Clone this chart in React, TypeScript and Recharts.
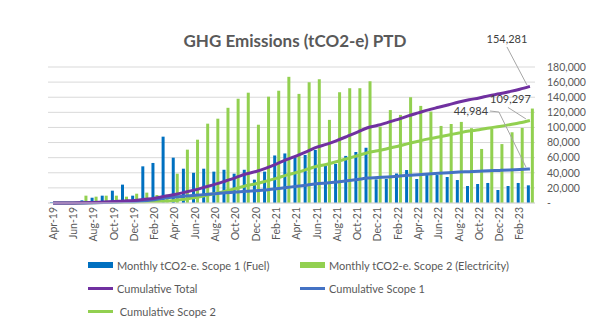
import React from "react";
import { ComposedChart, Bar, Line, XAxis, YAxis, CartesianGrid } from "recharts";

const FONT = "Lato, 'Open Sans', sans-serif";
const TXT = "#595959";

// categorias mensais (Apr-19 .. Mar-23)
const MONTHS = [
  "Apr-19", "May-19", "Jun-19", "Jul-19", "Aug-19", "Sep-19", "Oct-19", "Nov-19", "Dec-19", "Jan-20", "Feb-20", "Mar-20",
  "Apr-20", "May-20", "Jun-20", "Jul-20", "Aug-20", "Sep-20", "Oct-20", "Nov-20", "Dec-20", "Jan-21", "Feb-21", "Mar-21",
  "Apr-21", "May-21", "Jun-21", "Jul-21", "Aug-21", "Sep-21", "Oct-21", "Nov-21", "Dec-21", "Jan-22", "Feb-22", "Mar-22",
  "Apr-22", "May-22", "Jun-22", "Jul-22", "Aug-22", "Sep-22", "Oct-22", "Nov-22", "Dec-22", "Jan-23", "Feb-23", "Mar-23",
];

// monthly tCO2-e
const SCOPE1_MONTHLY = [
  25, 0, 0, 88, 175, 243, 408, 608, 243, 1213, 1325, 2195,
  1500, 1135, 1000, 1135, 1038, 1100, 970, 1100, 773, 1038, 1573, 1640,
  1513, 1590, 1755, 1225, 1293, 1558, 1688, 1828, 783, 800, 975, 1091,
  795, 925, 925, 860, 760, 563, 628, 663, 430, 563, 663, 585,
];
const SCOPE2_MONTHLY = [
  13, 0, 0, 243, 210, 243, 243, 210, 308, 343, 265, 275,
  970, 1765, 2095, 2625, 2790, 3150, 3450, 3650, 2590, 3518, 3715, 4175,
  3610, 3995, 4095, 2750, 3665, 3798, 3798, 4028, 2525, 3075, 2915, 3500,
  3213, 3025, 2550, 2615, 2683, 2475, 1788, 2450, 1950, 2340, 2483, 3125,
];

// cumulative tCO2-e
const CUM_TOTAL = [
  38, 38, 38, 369, 754, 1240, 1891, 2709, 3260, 4816, 6406, 8876,
  11346, 14246, 17341, 21101, 24929, 29179, 33599, 38349, 41712, 46268, 51556, 57371,
  62494, 68079, 73929, 77904, 82862, 88218, 93704, 99560, 102868, 106743, 110633, 115224,
  119232, 123182, 126657, 130132, 133575, 136613, 139029, 142142, 144522, 147425, 150571, 154281,
];
const CUM_SCOPE1 = [
  25, 25, 25, 113, 288, 531, 939, 1547, 1790, 3003, 4328, 6523,
  8023, 9158, 10158, 11293, 12331, 13431, 14401, 15501, 16274, 17312, 18885, 20525,
  22038, 23628, 25383, 26608, 27901, 29459, 31147, 32975, 33758, 34558, 35533, 36624,
  37419, 38344, 39269, 40129, 40889, 41452, 42080, 42743, 43173, 43736, 44399, 44984,
];
const CUM_SCOPE2 = [
  13, 13, 13, 256, 466, 709, 952, 1162, 1470, 1813, 2078, 2353,
  3323, 5088, 7183, 9808, 12598, 15748, 19198, 22848, 25438, 28956, 32671, 36846,
  40456, 44451, 48546, 51296, 54961, 58759, 62557, 66585, 69110, 72185, 75100, 78600,
  81813, 84838, 87388, 90003, 92686, 95161, 96949, 99399, 101349, 103689, 106172, 109297,
];

const RIGHT_TICKS = [0, 20000, 40000, 60000, 80000, 100000, 120000, 140000, 160000, 180000];

const data = MONTHS.map((m, i) => ({
  month: m,
  scope1: SCOPE1_MONTHLY[i],
  scope2: SCOPE2_MONTHLY[i],
  cumTotal: CUM_TOTAL[i],
  cumScope1: CUM_SCOPE1[i],
  cumScope2: CUM_SCOPE2[i],
}));

const LAST = MONTHS.length - 1;

// rótulo do último ponto com linha de chamada
function endLabel(tdx: number, tdy: number, leader: number[][]) {
  return (props: any) => {
    const { x, y, index, value } = props;
    if (index !== LAST || x == null) return null;
    const pts = leader.map(([a, b]) => `${x + a},${y + b}`).join(" ");
    return (
      <g key="end-label">
        <polyline points={pts} fill="none" stroke="#A6A6A6" strokeWidth={1} />
        <text x={x + tdx} y={y + tdy} textAnchor="middle" fontSize={11} fontFamily={FONT} fill="#404040">
          {Number(value).toLocaleString("en-US")}
        </text>
      </g>
    );
  };
}

const MonthTick = (props: any) => {
  const { x, y, payload } = props;
  return (
    <text
      x={x}
      y={y}
      dy="0.35em"
      transform={`rotate(-90, ${x}, ${y})`}
      textAnchor="end"
      fontSize={10.5}
      fontFamily={FONT}
      fill={TXT}
    >
      {payload.value}
    </text>
  );
};

const LEGEND = [
  { label: "Monthly tCO2-e. Scope 1 (Fuel)", color: "#0070C0", kind: "bar", x: 88, y: 265 },
  { label: "Monthly tCO2-e. Scope 2 (Electricity)", color: "#92D050", kind: "bar", x: 300, y: 265 },
  { label: "Cumulative Total", color: "#7030A0", kind: "line", x: 88, y: 288 },
  { label: "Cumulative Scope 1", color: "#4472C4", kind: "line", x: 300, y: 288 },
  { label: " Cumulative Scope 2", color: "#92D050", kind: "line", x: 88, y: 311 },
];

export default function App() {
  return (
    <div style={{ position: "absolute", left: 0, top: 0, width: 592, height: 324, background: "#fff", fontFamily: FONT }}>
      <div
        style={{
          position: "absolute",
          left: 0,
          width: 592,
          top: 30,
          textAlign: "center",
          fontSize: 17,
          fontWeight: 700,
          color: TXT,
        }}
      >
        <span style={{ position: "relative", left: -1 }}>GHG Emissions (tCO2-e) PTD</span>
      </div>

      <ComposedChart
        width={592}
        height={324}
        data={data}
        margin={{ top: 67, right: 0, bottom: 81, left: 48 }}
        barSize={3}
        barGap={1}
        style={{ position: "absolute", left: 0, top: 0 }}
      >
        <CartesianGrid yAxisId="cum" vertical={false} stroke="#D9D9D9" />
        <XAxis
          dataKey="month"
          interval={1}
          tickLine={false}
          axisLine={{ stroke: "#D9D9D9" }}
          tickSize={0}
          tickMargin={4}
          height={40}
          tick={<MonthTick />}
        />
        <YAxis yAxisId="bars" hide domain={[0, 4500]} />
        <YAxis
          yAxisId="cum"
          orientation="right"
          domain={[0, 180000]}
          ticks={RIGHT_TICKS}
          interval={0}
          width={57}
          axisLine={false}
          tickLine={false}
          tickMargin={6}
          tick={{ fontSize: 10.5, fontFamily: FONT, fill: TXT, textAnchor: "start" }}
          tickFormatter={(v: number) => (v === 0 ? "-" : v.toLocaleString("en-US"))}
        />
        <Bar yAxisId="bars" dataKey="scope1" fill="#0070C0" isAnimationActive={false} />
        <Bar yAxisId="bars" dataKey="scope2" fill="#92D050" isAnimationActive={false} />
        <Line
          yAxisId="cum"
          type="monotone"
          dataKey="cumScope2"
          stroke="#92D050"
          strokeWidth={3}
          dot={false}
          isAnimationActive={false}
          label={endLabel(-19.5, -17, [[-22, -13], [-4, -1.5]])}
        />
        <Line
          yAxisId="cum"
          type="monotone"
          dataKey="cumScope1"
          stroke="#4472C4"
          strokeWidth={3}
          dot={false}
          isAnimationActive={false}
          label={endLabel(-59, -54, [[-40, -58], [-31, -57], [-4, -2]])}
        />
        <Line
          yAxisId="cum"
          type="monotone"
          dataKey="cumTotal"
          stroke="#7030A0"
          strokeWidth={3}
          dot={false}
          isAnimationActive={false}
          label={endLabel(-23, -43, [[-23, -39.5], [-3, -1.5]])}
        />
      </ComposedChart>

      {LEGEND.map((item) => (
        <div
          key={item.label}
          style={{
            position: "absolute",
            left: item.x,
            top: item.y - 8,
            height: 16,
            display: "flex",
            alignItems: "center",
            fontSize: 11,
            color: TXT,
            whiteSpace: "pre",
          }}
        >
          <span
            style={{
              display: "inline-block",
              width: 25,
              height: item.kind === "bar" ? 6 : 3,
              background: item.color,
              marginRight: 4,
            }}
          />
          {item.label}
        </div>
      ))}
    </div>
  );
}
